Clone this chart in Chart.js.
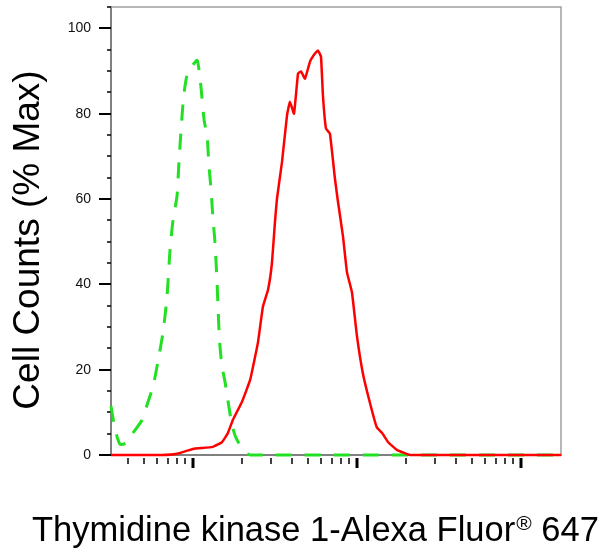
<!DOCTYPE html>
<html>
<head>
<meta charset="utf-8">
<script src="https://cdn.jsdelivr.net/npm/chart.js@4/dist/chart.umd.min.js"></script>
<style>
  body { margin: 0; background: #fff; }
  canvas { display: block; }
</style>
</head>
<body>
<canvas id="histo" width="606" height="558"></canvas>
<script>
// isotype control (green dashed)
const isoX = [3.16, 3.35, 3.59, 3.9, 4.31, 4.89, 5.32, 5.7, 6.12, 6.56, 6.94, 7.24, 7.55, 7.99, 8.21, 8.45, 8.69, 8.94, 9.32, 10, 10.6, 10.9, 11.2, 11.7, 12.2, 12.5, 12.9, 13.2, 13.6, 14.0, 14.2, 14.5, 15.0, 15.7, 16.6, 17.3, 18.3, 20.2, 22.3, 1754];
const isoY = [11.5, 6, 2.5, 2.8, 5.2, 8.2, 12.5, 16, 22, 28.7, 37, 48, 55, 60.7, 68.7, 76, 82.4, 86.5, 90, 91.5, 92.5, 90, 86, 78.4, 74.6, 68, 62, 56, 50, 41, 35, 27, 21, 17, 11, 7, 4, 1.2, 0, 0];

// Thymidine kinase 1 stained sample (red)
const tkX = [3.16, 6.47, 7.99, 10, 13.2, 15.0, 16.3, 17.5, 19.9, 22.3, 24.9, 26.7, 28.7, 30.3, 31.6, 32.5, 34.9, 37.4, 39.0, 41.3, 43.7, 45.6, 48.2, 51.7, 55.4, 57.8, 60.3, 62.0, 64.7, 68.4, 73.4, 76.6, 82.1, 86.9, 93.2, 100, 108.8, 120, 132, 142, 155, 175, 211, 1754];
const tkY = [0, 0, 0.3, 1.4, 1.9, 3, 5.1, 8.2, 12.5, 17.6, 26.4, 34.8, 38.8, 45, 54.6, 60, 68.7, 79.5, 82.8, 80, 89.4, 89.9, 88.2, 92.2, 94.1, 94.8, 93.4, 84.2, 76.5, 75.3, 64.7, 59.3, 51.3, 42.8, 38.1, 27.8, 19, 12.2, 6.5, 5.2, 3, 1.2, 0, 0];

const yMajor = [0, 20, 40, 60, 80, 100];
const yMinor = [5, 10, 15, 25, 30, 35, 45, 50, 55, 65, 70, 75, 85, 90, 95, 105];
const xMajor = [10, 100, 1000];
const xMinor = [4, 5, 6, 7, 8, 9, 20, 30, 40, 50, 60, 70, 80, 90, 200, 300, 400, 500, 600, 700, 800, 900];

const yTitle = "Cell Counts (% Max)";
const xTitle = "Thymidine kinase 1-Alexa Fluor";
const FONT = '"Liberation Sans", Arial, Helvetica, sans-serif';

function toPoints(xs, ys) {
    return xs.map((x, i) => ({ x: x, y: ys[i] }));
}

// frame on top/right plus the tick marks (major longer and thicker)
const frameAndTicks = {
    id: "frameAndTicks",
    beforeDatasetsDraw(chart) {
        const ctx = chart.ctx;
        const a = chart.chartArea;
        const xs = chart.scales.x;
        const ys = chart.scales.y;
        ctx.save();
        ctx.strokeStyle = "#a0a0a0";
        ctx.lineWidth = 1.5;
        ctx.beginPath();
        ctx.moveTo(a.left, a.top);
        ctx.lineTo(a.right, a.top);
        ctx.lineTo(a.right, a.bottom);
        ctx.stroke();

        ctx.strokeStyle = "#000";
        const tick = (x1, y1, x2, y2, w) => {
            ctx.lineWidth = w;
            ctx.beginPath();
            ctx.moveTo(x1, y1);
            ctx.lineTo(x2, y2);
            ctx.stroke();
        };
        yMinor.forEach((v) => {
            const p = Math.round(ys.getPixelForValue(v));
            tick(a.left - 4, p, a.left, p, 1.5);
        });
        yMajor.forEach((v) => {
            const p = Math.round(ys.getPixelForValue(v));
            tick(a.left - 12, p, a.left, p, 2);
        });
        xMinor.forEach((v) => {
            const p = Math.round(xs.getPixelForValue(v));
            tick(p, a.bottom + 3, p, a.bottom + 9, 1.5);
        });
        xMajor.forEach((v) => {
            const p = Math.round(xs.getPixelForValue(v));
            tick(p, a.bottom + 3, p, a.bottom + 13, 3);
        });
        ctx.restore();
    },
    afterDraw(chart) {
        const ctx = chart.ctx;
        ctx.save();
        ctx.fillStyle = "#000";

        // y title, rotated
        ctx.font = "37px " + FONT;
        ctx.textAlign = "center";
        ctx.textBaseline = "middle";
        ctx.translate(29, 240);
        ctx.rotate(-Math.PI / 2);
        ctx.fillText(yTitle, 0, 0);
        ctx.setTransform(1, 0, 0, 1, 0, 0);

        // x title with superscript ®
        ctx.textAlign = "left";
        ctx.textBaseline = "alphabetic";
        let x = 32;
        ctx.font = "34.5px " + FONT;
        ctx.fillText(xTitle, x, 541);
        x += ctx.measureText(xTitle).width + 1;
        ctx.font = "21px " + FONT;
        ctx.fillText("\u00AE", x, 530);
        x += ctx.measureText("\u00AE").width;
        ctx.font = "34.5px " + FONT;
        ctx.fillText(" 647", x, 541);
        ctx.restore();
    },
};

new Chart(document.getElementById("histo"), {
    type: "scatter",
    data: {
        datasets: [
            {
                label: "TK1",
                data: toPoints(tkX, tkY),
                showLine: true,
                borderColor: "#ff0000",
                borderWidth: 2.5,
                pointRadius: 0,
                tension: 0.1,
                clip: false,
            },
            {
                label: "Isotype",
                data: toPoints(isoX, isoY),
                showLine: true,
                borderColor: "#22e022",
                borderWidth: 3,
                borderDash: [16, 13],
                pointRadius: 0,
                tension: 0.2,
                clip: false,
            },
        ],
    },
    options: {
        responsive: false,
        animation: false,
        devicePixelRatio: 1,
        layout: { padding: { top: 7, right: 45, left: 0, bottom: 0 } },
        plugins: {
            legend: { display: false },
            tooltip: { enabled: false },
        },
        scales: {
            x: {
                type: "logarithmic",
                min: 3.162,
                max: 1754,
                grid: { display: false, drawTicks: false },
                border: { display: true, color: "#808080", width: 2 },
                ticks: { display: false },
                afterFit: (s) => {
                    s.height = 103;
                    s.paddingLeft = 0;
                    s.paddingRight = 0;
                },
            },
            y: {
                min: 0,
                max: 105,
                grid: { display: false, drawTicks: false },
                border: { display: true, color: "#808080", width: 2 },
                afterBuildTicks: (s) => { s.ticks = yMajor.map((v) => ({ value: v })); },
                ticks: {
                    padding: 20,
                    color: "#111",
                    font: { family: FONT, size: 14 },
                },
                afterFit: (s) => {
                    s.width = 111;
                    s.paddingTop = 0;
                    s.paddingBottom = 0;
                },
            },
        },
    },
    plugins: [frameAndTicks],
});
</script>
</body>
</html>
